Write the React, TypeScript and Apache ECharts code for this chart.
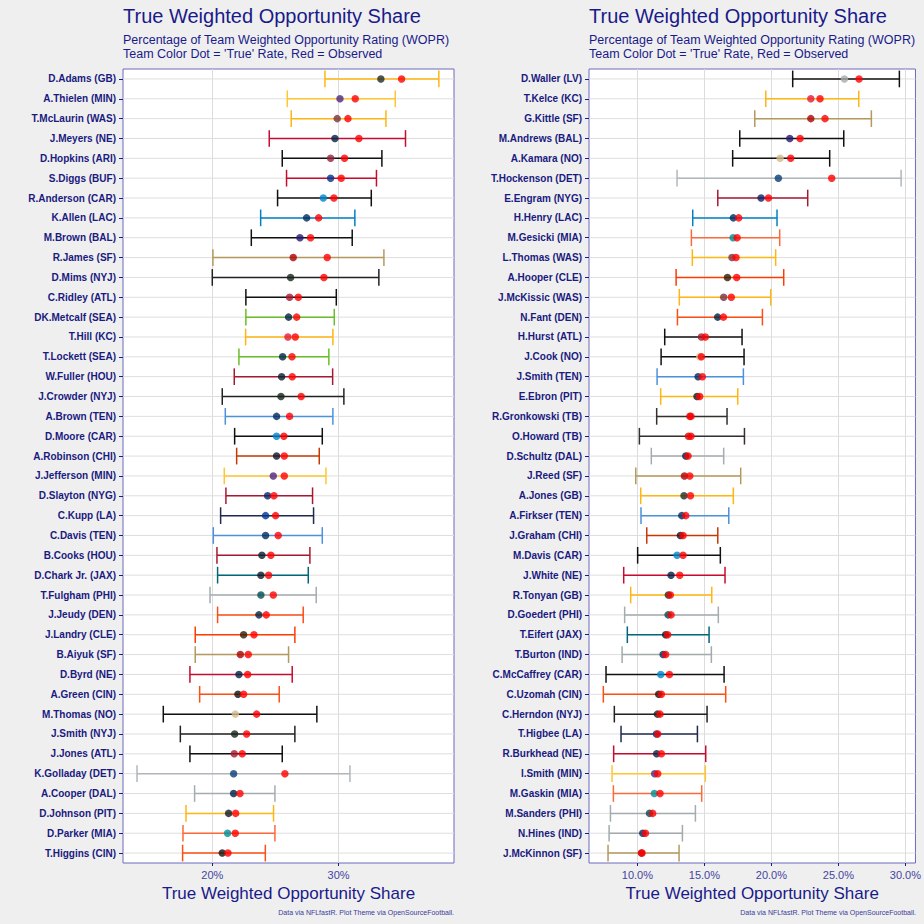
import React, { useEffect, useRef } from "react";
import * as echarts from "echarts";

// ---------- Data: wide receivers (left panel) ----------
const leftPlayers = [
  "D.Adams (GB)", "A.Thielen (MIN)", "T.McLaurin (WAS)", "J.Meyers (NE)", "D.Hopkins (ARI)",
  "S.Diggs (BUF)", "R.Anderson (CAR)", "K.Allen (LAC)", "M.Brown (BAL)", "R.James (SF)",
  "D.Mims (NYJ)", "C.Ridley (ATL)", "DK.Metcalf (SEA)", "T.Hill (KC)", "T.Lockett (SEA)",
  "W.Fuller (HOU)", "J.Crowder (NYJ)", "A.Brown (TEN)", "D.Moore (CAR)", "A.Robinson (CHI)",
  "J.Jefferson (MIN)", "D.Slayton (NYG)", "C.Kupp (LA)", "C.Davis (TEN)", "B.Cooks (HOU)",
  "D.Chark Jr. (JAX)", "T.Fulgham (PHI)", "J.Jeudy (DEN)", "J.Landry (CLE)", "B.Aiyuk (SF)",
  "D.Byrd (NE)", "A.Green (CIN)", "M.Thomas (NO)", "J.Smith (NYJ)", "J.Jones (ATL)",
  "K.Golladay (DET)", "A.Cooper (DAL)", "D.Johnson (PIT)", "D.Parker (MIA)", "T.Higgins (CIN)",
];
const leftLower = [
  28.92, 25.94, 26.25, 24.51, 25.54, 25.88, 25.17, 23.83, 23.09, 20.05,
  20.0, 22.66, 22.66, 22.64, 22.11, 21.74, 20.79, 21.03, 21.77, 21.93,
  20.95, 21.08, 20.66, 20.08, 20.37, 20.42, 19.82, 20.42, 18.65, 18.65,
  18.23, 19.0, 16.12, 17.47, 18.23, 14.04, 18.6, 17.92, 17.68, 17.65,
];
const leftTrue = [
  33.35, 30.11, 29.89, 29.71, 29.37, 29.37, 28.79, 27.47, 26.94, 26.41,
  26.2, 26.12, 26.04, 25.99, 25.57, 25.49, 25.44, 25.09, 25.09, 25.09,
  24.83, 24.38, 24.22, 24.22, 23.93, 23.85, 23.85, 23.69, 22.48, 22.22,
  22.11, 22.03, 21.82, 21.77, 21.74, 21.69, 21.69, 21.29, 21.21, 20.79,
];
const leftObserved = [
  34.99, 31.32, 30.74, 31.61, 30.47, 30.21, 29.63, 28.42, 27.78, 29.1,
  28.84, 26.81, 26.68, 26.57, 26.31, 26.33, 27.04, 26.12, 25.67, 25.7,
  25.7, 24.88, 25.01, 25.22, 24.64, 24.46, 24.83, 24.27, 23.3, 22.85,
  22.8, 22.48, 23.51, 22.72, 22.37, 25.75, 22.19, 21.85, 21.82, 21.24,
];
const leftUpper = [
  37.94, 34.49, 33.75, 35.3, 33.43, 33.0, 32.59, 31.29, 31.08, 33.59,
  33.19, 29.82, 29.66, 29.55, 29.23, 29.53, 30.42, 29.55, 28.71, 28.47,
  29.0, 27.94, 28.02, 28.71, 27.73, 27.6, 28.23, 27.2, 26.54, 26.04,
  26.33, 25.3, 28.28, 26.54, 25.54, 30.9, 24.96, 24.85, 24.96, 24.2,
];

// ---------- Data: tight ends / running backs (right panel) ----------
const rightPlayers = [
  "D.Waller (LV)", "T.Kelce (KC)", "G.Kittle (SF)", "M.Andrews (BAL)", "A.Kamara (NO)",
  "T.Hockenson (DET)", "E.Engram (NYG)", "H.Henry (LAC)", "M.Gesicki (MIA)", "L.Thomas (WAS)",
  "A.Hooper (CLE)", "J.McKissic (WAS)", "N.Fant (DEN)", "H.Hurst (ATL)", "J.Cook (NO)",
  "J.Smith (TEN)", "E.Ebron (PIT)", "R.Gronkowski (TB)", "O.Howard (TB)", "D.Schultz (DAL)",
  "J.Reed (SF)", "A.Jones (GB)", "A.Firkser (TEN)", "J.Graham (CHI)", "M.Davis (CAR)",
  "J.White (NE)", "R.Tonyan (GB)", "D.Goedert (PHI)", "T.Eifert (JAX)", "T.Burton (IND)",
  "C.McCaffrey (CAR)", "C.Uzomah (CIN)", "C.Herndon (NYJ)", "T.Higbee (LA)", "R.Burkhead (NE)",
  "I.Smith (MIN)", "M.Gaskin (MIA)", "M.Sanders (PHI)", "N.Hines (IND)", "J.McKinnon (SF)",
];
const rightLower = [
  21.59, 19.58, 18.76, 17.64, 17.11, 12.96, 16.0, 14.13, 14.03, 14.1,
  12.89, 13.13, 12.99, 12.04, 11.77, 11.47, 11.74, 11.44, 10.15, 11.04,
  9.88, 10.25, 10.27, 10.7, 10.02, 8.98, 9.5, 9.05, 9.25, 8.86,
  7.66, 7.46, 8.28, 8.78, 8.23, 8.11, 8.21, 7.99, 7.89, 7.81,
];
const rightTrue = [
  25.45, 22.94, 22.94, 21.37, 20.65, 20.52, 19.23, 17.16, 17.14, 17.06,
  16.72, 16.44, 15.99, 14.78, 14.65, 14.53, 14.45, 13.91, 13.81, 13.61,
  13.51, 13.48, 13.31, 13.21, 12.96, 12.51, 12.31, 12.29, 12.11, 11.92,
  11.74, 11.59, 11.49, 11.42, 11.44, 11.29, 11.27, 10.9, 10.4, 10.3,
];
const rightObserved = [
  26.54, 23.63, 24.0, 22.14, 21.44, 24.5, 19.78, 17.56, 17.44, 17.36,
  17.41, 17.01, 16.42, 15.07, 14.78, 14.85, 14.65, 14.0, 14.0, 13.78,
  13.91, 13.96, 13.61, 13.41, 13.41, 13.16, 12.46, 12.51, 12.26, 12.11,
  12.39, 11.79, 11.69, 11.52, 11.79, 11.52, 11.69, 11.14, 10.6, 10.35,
];
const rightUpper = [
  29.55, 26.52, 27.46, 25.4, 24.35, 29.68, 22.71, 20.42, 20.62, 20.32,
  20.92, 19.95, 19.33, 17.81, 17.96, 17.91, 17.49, 16.69, 17.99, 16.44,
  17.71, 17.16, 16.82, 16.0, 16.19, 16.54, 15.55, 16.04, 15.35, 15.52,
  16.47, 16.59, 15.2, 14.48, 15.1, 15.07, 14.8, 14.33, 13.36, 13.11,
];

const leftTicks = [20, 30];
const rightTicks = [10, 15, 20, 25, 30];

// ---------- Team colour lookup (style) ----------
const teamBarColor: Record<string, string> = {
  ARI: "#111111", ATL: "#111111", BAL: "#111111", BUF: "#C60C30", CAR: "#111111",
  CHI: "#C83803", CIN: "#FB4F14", CLE: "#FF3C00", DAL: "#A5ACAF", DEN: "#FB4F14",
  DET: "#B0B7BC", GB: "#FFB612", HOU: "#A71930", IND: "#A2AAAD", JAX: "#006778",
  KC: "#FFB612", LA: "#1E2A4F", LAC: "#0080C6", LV: "#111111", MIA: "#FC6A3A",
  MIN: "#FFC62F", NE: "#C60C30", NO: "#111111", NYG: "#A71930", NYJ: "#222222",
  PHI: "#A5ACAF", PIT: "#FFB612", SEA: "#69BE28", SF: "#B3995D", TB: "#34302B",
  TEN: "#4B92DB", WAS: "#FFB612",
};
const teamDotColor: Record<string, string> = {
  ARI: "#97233F", ATL: "#A71930", BAL: "#241773", BUF: "#00338D", CAR: "#0085CA",
  CHI: "#0B162A", CIN: "#111111", CLE: "#311D00", DAL: "#041E42", DEN: "#002244",
  DET: "#0B3D78", GB: "#1E2B25", HOU: "#03202F", IND: "#002C5F", JAX: "#101820",
  KC: "#E31837", LA: "#003594", LAC: "#002A5E", LV: "#A5ACAF", MIA: "#008E97",
  MIN: "#4F2683", NE: "#002244", NO: "#D3BC8D", NYG: "#0B2265", NYJ: "#16241C",
  PHI: "#004C54", PIT: "#101820", SEA: "#002244", SF: "#AA0000", TB: "#D50A0A",
  TEN: "#002A5C", WAS: "#773141",
};

const NAVY = "#1a1a8a";
const FONT = '"Liberation Sans", Arial, sans-serif';

function teamOf(name: string): string {
  const m = name.match(/\(([A-Z]+)\)$/);
  return m ? m[1] : "";
}

function renderErrorBar(params: any, api: any) {
  const lo = api.value(0);
  const hi = api.value(1);
  const c = api.value(2);
  const p1 = api.coord([lo, c]);
  const p2 = api.coord([hi, c]);
  const band = api.size([0, 1])[1];
  const h = band * 0.42;
  const color = api.visual("color");
  const cs = params.coordSys;
  return {
    type: "group",
    children: [
      {
        type: "line",
        shape: { x1: cs.x, y1: p1[1], x2: cs.x + cs.width, y2: p1[1] },
        style: { stroke: "#dedede", lineWidth: 1 },
      },
      {
        type: "line",
        shape: { x1: p1[0], y1: p1[1], x2: p2[0], y2: p2[1] },
        style: { stroke: color, lineWidth: 1.5 },
      },
      {
        type: "line",
        shape: { x1: p1[0], y1: p1[1] - h, x2: p1[0], y2: p1[1] + h },
        style: { stroke: color, lineWidth: 1.5 },
      },
      {
        type: "line",
        shape: { x1: p2[0], y1: p2[1] - h, x2: p2[0], y2: p2[1] + h },
        style: { stroke: color, lineWidth: 1.5 },
      },
    ],
  };
}

function panelSeries(idx: number, players: string[], lower: number[], tr: number[], obs: number[], upper: number[]) {
  const barData = players.map((p, i) => ({
    value: [lower[i], upper[i], i],
    itemStyle: { color: teamBarColor[teamOf(p)] },
  }));
  const trueData = players.map((p, i) => ({
    value: [tr[i], i],
    itemStyle: { color: teamDotColor[teamOf(p)] },
  }));
  const obsData = players.map((p, i) => [obs[i], i]);
  return [
    {
      type: "custom",
      xAxisIndex: idx,
      yAxisIndex: idx,
      renderItem: renderErrorBar,
      data: barData,
      encode: { x: [0, 1], y: 2 },
      z: 2,
      silent: true,
    },
    {
      type: "scatter",
      xAxisIndex: idx,
      yAxisIndex: idx,
      data: trueData,
      symbolSize: 7.5,
      z: 3,
      silent: true,
    },
    {
      type: "scatter",
      xAxisIndex: idx,
      yAxisIndex: idx,
      data: obsData,
      symbolSize: 7.5,
      itemStyle: { color: "#FF0000" },
      z: 4,
      silent: true,
    },
  ];
}

function xAxisFor(idx: number, min: number, max: number, ticks: number[], fmt: (v: number) => string) {
  return {
    type: "value",
    gridIndex: idx,
    min,
    max,
    axisLine: { show: false },
    axisTick: { show: true, customValues: ticks, length: 3, lineStyle: { color: NAVY, width: 1 } },
    axisLabel: {
      customValues: ticks,
      formatter: fmt,
      color: "#4444a0",
      fontSize: 11,
      fontFamily: FONT,
      margin: 6,
    },
    splitLine: { show: true, lineStyle: { color: "#dcdcdc", width: 1 } },
    name: "True Weighted Opportunity Share",
    nameLocation: "middle",
    nameGap: 22,
    nameTextStyle: { color: NAVY, fontSize: 17, fontFamily: FONT },
  };
}

function yAxisFor(idx: number, players: string[]) {
  return {
    type: "category",
    gridIndex: idx,
    data: players,
    inverse: true,
    axisLine: { show: false },
    axisTick: { show: true, alignWithLabel: true, length: 4, lineStyle: { color: NAVY, width: 1 } },
    axisLabel: {
      color: "#1a1a80",
      fontSize: 10,
      fontWeight: "bold",
      fontFamily: FONT,
      margin: 7,
      interval: 0,
    },
    splitLine: { show: false },
  };
}

function headerTexts(x: number, right: number) {
  return [
    {
      type: "text",
      x,
      y: 16,
      style: { text: "True Weighted Opportunity Share", fill: NAVY, fontSize: 20, fontFamily: FONT, textVerticalAlign: "middle" },
    },
    {
      type: "text",
      x,
      y: 39.5,
      style: { text: "Percentage of Team Weighted Opportunity Rating (WOPR)", fill: NAVY, fontSize: 12.5, fontFamily: FONT, textVerticalAlign: "middle" },
    },
    {
      type: "text",
      x,
      y: 53.5,
      style: { text: "Team Color Dot = 'True' Rate, Red = Observed", fill: NAVY, fontSize: 12.5, fontFamily: FONT, textVerticalAlign: "middle" },
    },
    {
      type: "text",
      x: right,
      y: 912,
      style: { text: "Data via NFLfastR. Plot Theme via OpenSourceFootball.", fill: "#3a3a9a", fontSize: 7, fontFamily: FONT, textAlign: "right", textVerticalAlign: "middle" },
    },
  ];
}

export default function App() {
  const ref = useRef<HTMLDivElement>(null);
  useEffect(() => {
    if (!ref.current) return;
    const chart = echarts.init(ref.current, undefined, { renderer: "svg" });
    const gridStyle = { show: true, backgroundColor: "#ffffff", borderColor: "#6b6bbf", borderWidth: 1, top: 69, height: 794 };
    chart.setOption({
      animation: false,
      backgroundColor: "#efefef",
      grid: [
        { ...gridStyle, left: 123, width: 331 },
        { ...gridStyle, left: 589, width: 327 },
      ],
      xAxis: [
        xAxisFor(0, 12.93, 39.14, leftTicks, (v: number) => `${Math.round(v)}%`),
        xAxisFor(1, 6.39, 30.75, rightTicks, (v: number) => `${v.toFixed(1)}%`),
      ],
      yAxis: [yAxisFor(0, leftPlayers), yAxisFor(1, rightPlayers)],
      series: [
        ...panelSeries(0, leftPlayers, leftLower, leftTrue, leftObserved, leftUpper),
        ...panelSeries(1, rightPlayers, rightLower, rightTrue, rightObserved, rightUpper),
      ],
      graphic: [...headerTexts(123, 454), ...headerTexts(589, 916)],
    });
    return () => chart.dispose();
  }, []);
  return (
    <div
      ref={ref}
      style={{ position: "fixed", left: 0, top: 0, width: 924, height: 924 }}
    />
  );
}
